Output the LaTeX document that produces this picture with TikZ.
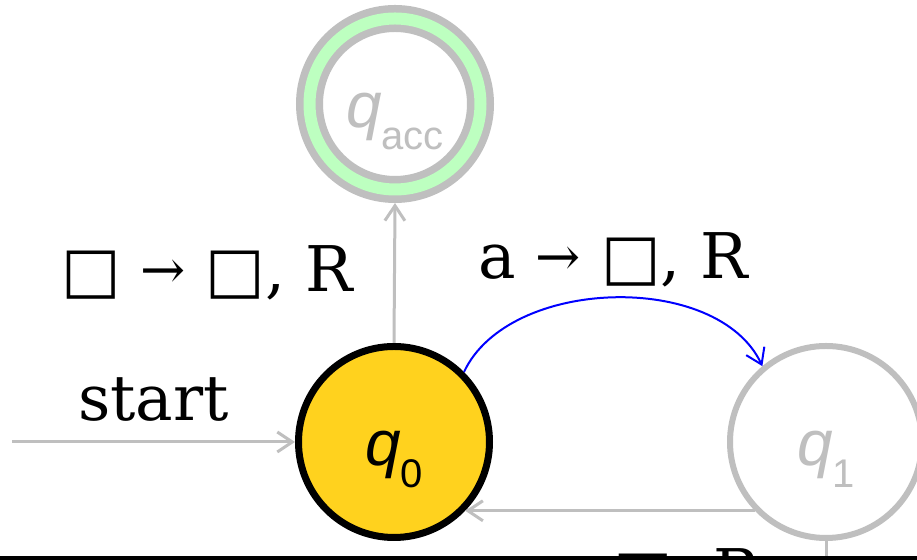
\documentclass[tikz,border=0pt]{standalone}
\usepackage{fontspec}
\setmainfont{DejaVu Serif}
\setsansfont{Liberation Sans}
\usetikzlibrary{arrows.meta}
\definecolor{hellgrau}{RGB}{191,191,191}
\definecolor{gelb}{RGB}{255,210,30}
\definecolor{hellgruen}{RGB}{189,255,192}
% Zustandsname q mit Index
\newcommand{\Zname}[1]{\textit{q}\raisebox{-10.75pt}{\fontsize{20pt}{20pt}\selectfont #1}}
% kleiner Pfeil in den Beschriftungen
\newcommand{\Pf}{\raisebox{1.5pt}{\fontsize{27pt}{27pt}\selectfont →}}
\tikzset{
  Zustand/.style={circle, draw=hellgrau, fill=white, line width=3pt,
    minimum size=96pt, text=hellgrau, text height=24pt, text depth=0pt,
    font=\sffamily\fontsize{32pt}{32pt}\selectfont}, % inaktiver Zustand
  Aktiv/.style={Zustand, draw=black, fill=gelb, text=black,
    line width=3.5pt, minimum size=95.5pt}, % aktueller Zustand
  Akzeptiert/.style={Zustand, double=hellgruen, double distance=6pt,
    line width=3.75pt, minimum size=85.5pt, outer sep=6.75pt}, % Endzustand
  Kante/.style={draw=hellgrau, line width=1.5pt}, % graue Kanten
  Uebergang/.style={draw=blue, line width=1pt}, % aktiver Übergang
  Beschriftung/.style={font=\fontsize{31.5pt}{31.5pt}\selectfont, inner sep=5pt, text=black}
}

\begin{document}
\begin{tikzpicture}[x=0.5pt, y=0.5pt,
>={Straight Barb[length=7.5pt,width=10pt]} % Voreinstellung für Pfeilspitzen
]
\useasboundingbox (0,0) rectangle (917,560);
\clip (0,0) rectangle (917,560);

%Zustände
\node[Aktiv] (q0) at (394,118) {\Zname{0}};
\node[Akzeptiert] (qacc) at (395,456) {\Zname{acc}};
\node[Zustand] (q1) at (826,118) {\Zname{1}};

\coordinate (start) at (12,118);
\coordinate (unten) at (826,-20);

%Übergänge
\draw[Kante,->] (start) -- node[Beschriftung, above=4.5pt]{start} (q0.west);
\draw[Kante,->] (q0.north) -- node[Beschriftung, left=15pt]{□ \Pf{} □, R} (qacc.south);
\draw[Uebergang,->] (q0.45) to[out=65, in=115, looseness=0.9] node[Beschriftung, above]{a \Pf{} □, R} (q1.130);
\draw[Kante,->] (q1.224) -- node[Beschriftung, below=13pt, xshift=8pt]{a \Pf{} □, R} (q0.-44);
\draw[Kante] (q1.south) -- (unten);

%Rand
\fill[black] (0,0) rectangle (917,3.5);
\end{tikzpicture}
\end{document}
